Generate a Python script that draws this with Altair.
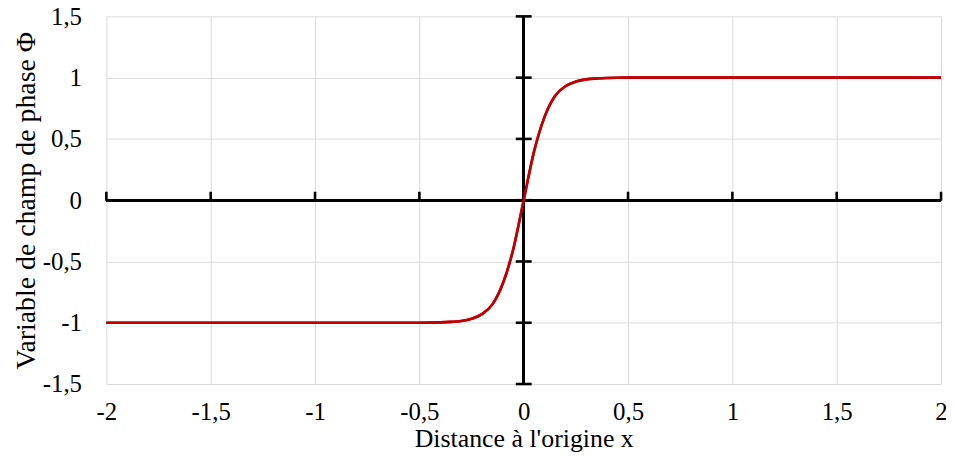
import altair as alt
import pandas as pd

# Curve
x_vals = [-2.0, -1.5, -1.0, -0.5, -0.45, -0.4, -0.35, -0.3, -0.25, -0.2, -0.15, -0.1, -0.05,
          0.0, 0.05, 0.1, 0.15, 0.2, 0.25, 0.3, 0.35, 0.4, 0.45, 0.5, 1.0, 1.5, 2.0]
phi_vals = [-1.0, -1.0, -1.0, -1.0, -0.999, -0.997, -0.993, -0.986, -0.968, -0.93, -0.85, -0.68, -0.40,
            0.0, 0.40, 0.68, 0.85, 0.93, 0.968, 0.986, 0.993, 0.997, 0.999, 1.0, 1.0, 1.0, 1.0]

x_ticks = [-2, -1.5, -1, -0.5, 0, 0.5, 1, 1.5, 2]
y_ticks = [-1.5, -1, -0.5, 0, 0.5, 1, 1.5]

curve = pd.DataFrame({"x": x_vals, "phi": phi_vals})
xt = pd.DataFrame({"t": x_ticks})
yt = pd.DataFrame({"t": y_ticks})

FONT = "Liberation Serif"
label_expr = "replace(toString(datum.value), '.', ',')"

xscale = alt.Scale(domain=[-2, 2], nice=False, zero=False)
yscale = alt.Scale(domain=[-1.5, 1.5], nice=False, zero=False)

xaxis = alt.Axis(values=x_ticks, labelExpr=label_expr, grid=True, gridColor="#d9d9d9",
                 domain=False, ticks=False, tickSize=0, labelPadding=16, labelFont=FONT,
                 labelFontSize=25, labelColor="black", labelFlush=False,
                 title="Distance à l'origine x",
                 titleFont=FONT, titleFontSize=26, titleFontWeight="normal", titleColor="black",
                 titlePadding=1)
yaxis = alt.Axis(values=y_ticks, labelExpr=label_expr, grid=True, gridColor="#d9d9d9",
                 domain=False, ticks=False, tickSize=0, labelPadding=25, labelFont=FONT,
                 labelFontSize=25, labelColor="black", labelFlush=False,
                 title="Variable de champ de phase Φ",
                 titleFont=FONT, titleFontSize=28, titleFontWeight="normal", titleColor="black",
                 titlePadding=2)

line = alt.Chart(curve).mark_line(color="#C00000", strokeWidth=2.6, interpolate="monotone").encode(
    x=alt.X("x:Q", scale=xscale, axis=xaxis),
    y=alt.Y("phi:Q", scale=yscale, axis=yaxis),
)

hrule = alt.Chart(xt).mark_rule(color="black", strokeWidth=2.6).encode(
    x=alt.datum(-2), x2=alt.datum(2), y=alt.datum(0)
)
vrule = alt.Chart(yt).mark_rule(color="black", strokeWidth=2.6).encode(
    y=alt.datum(-1.5), y2=alt.datum(1.5), x=alt.datum(0)
)
hticks = alt.Chart(xt).mark_tick(color="black", orient="vertical", size=9, thickness=2.6,
                                 yOffset=-4, opacity=1).encode(
    x=alt.X("t:Q", scale=xscale, axis=xaxis), y=alt.datum(0)
)
vticks = alt.Chart(yt).mark_tick(color="black", orient="horizontal", size=16, thickness=2.6,
                                 opacity=1).encode(
    y=alt.Y("t:Q", scale=yscale, axis=yaxis), x=alt.datum(0)
)

chart = alt.layer(line, hrule, vrule, hticks, vticks, line).properties(
    width=840, height=370, autosize="none",
    padding={"left": 99, "top": 7, "right": 5, "bottom": 70},
    background="white",
).configure_view(stroke=None).configure_axis(labelFont=FONT, titleFont=FONT)

chart.save("out.html", embed_options={"renderer": "svg", "actions": False})
